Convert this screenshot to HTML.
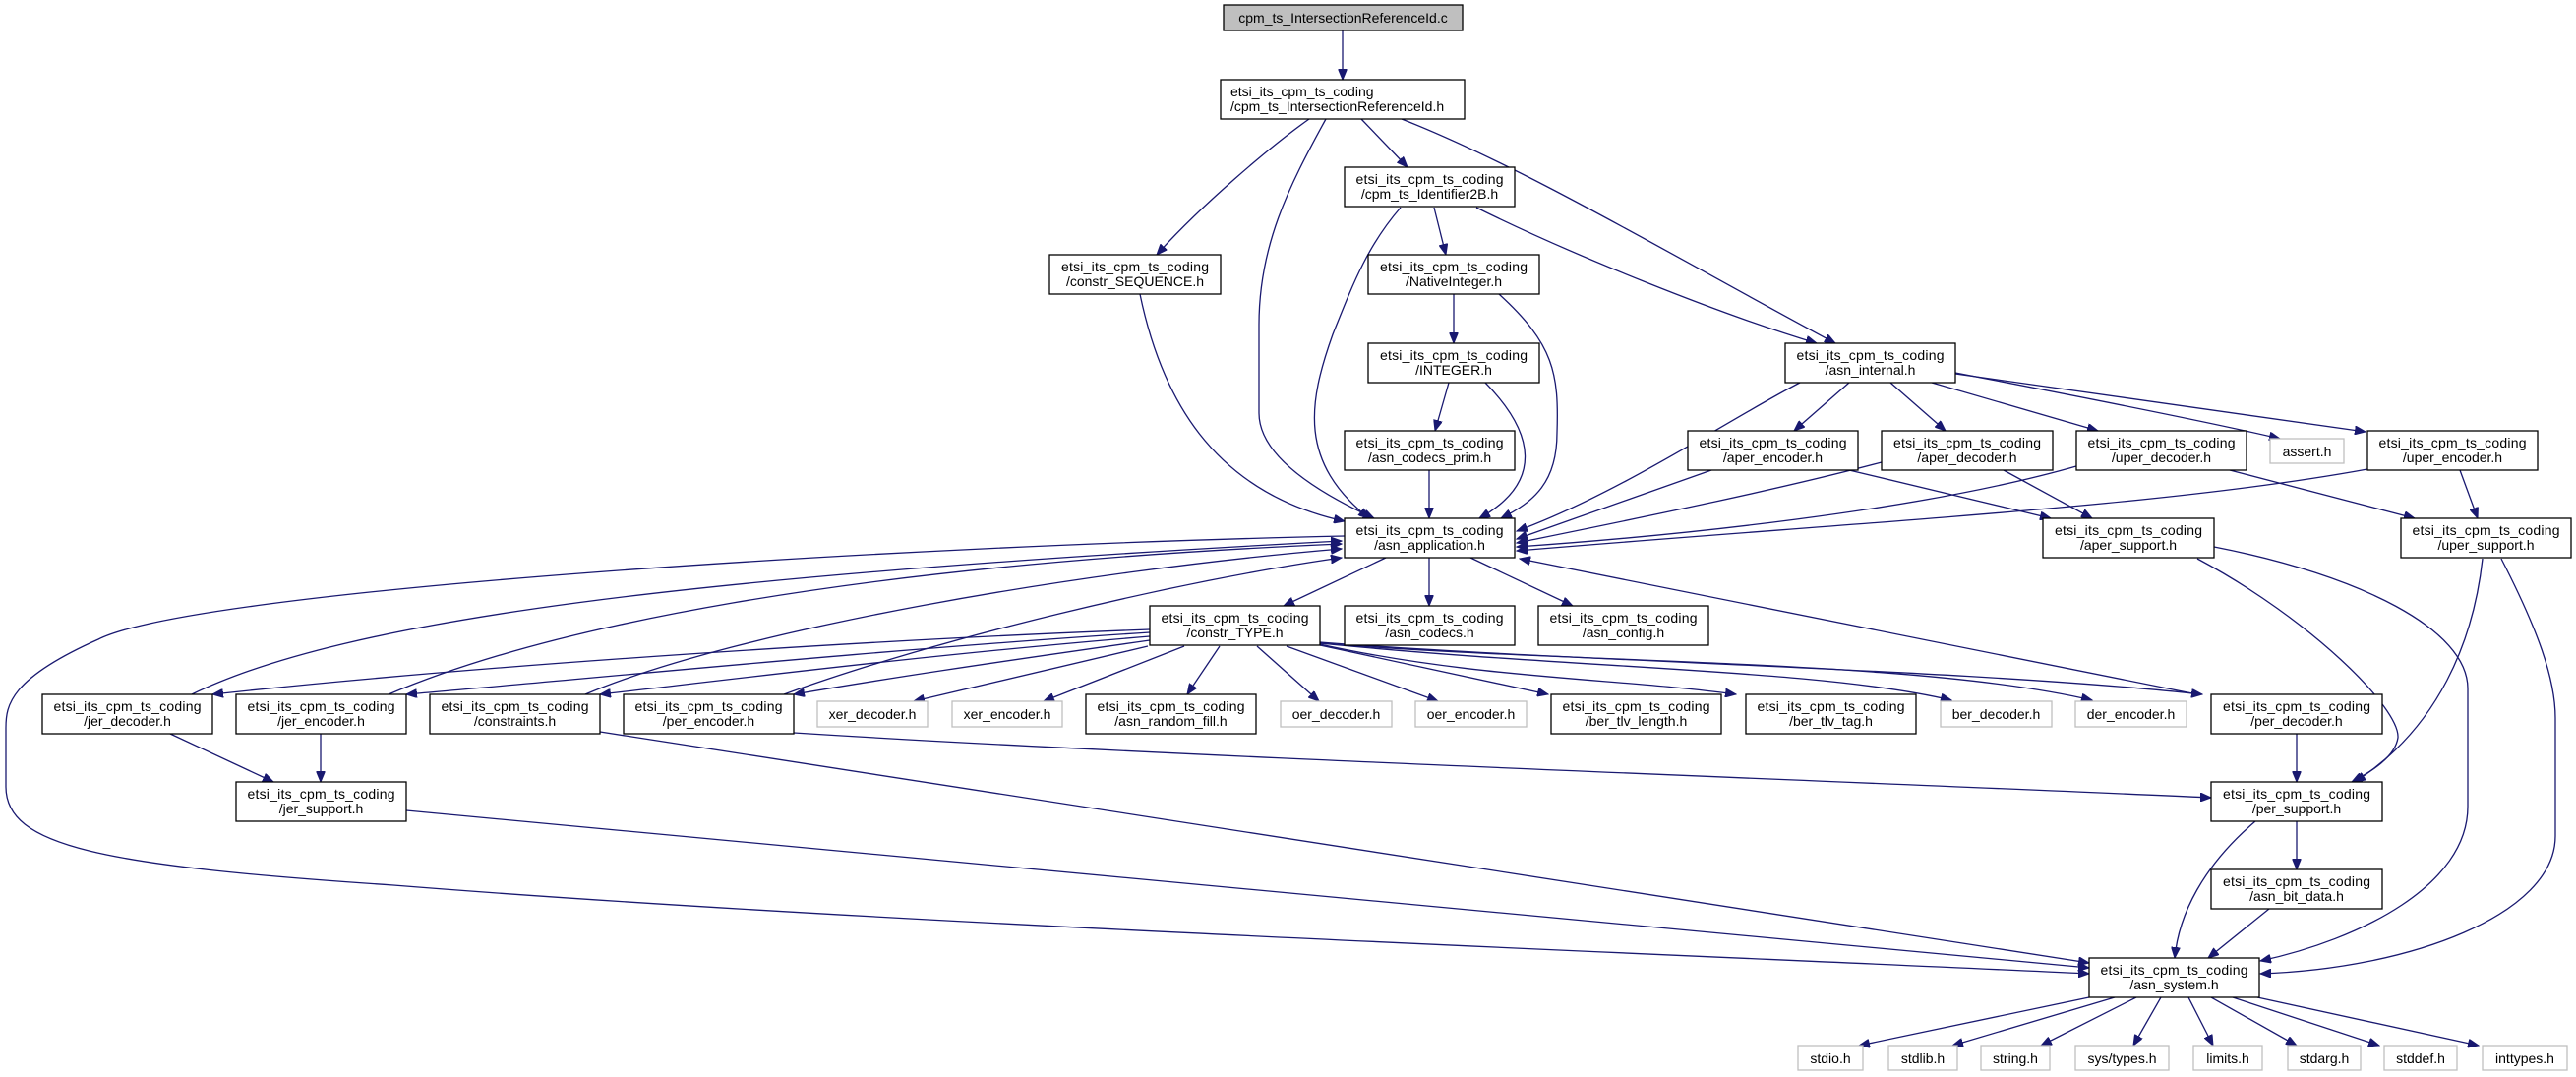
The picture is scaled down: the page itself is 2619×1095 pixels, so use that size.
<!DOCTYPE html>
<html><head><meta charset="utf-8"><style>
html,body{margin:0;padding:0;background:#fff;}
svg{display:block;}
text{font-family:"Liberation Sans","DejaVu Sans",sans-serif;font-size:14px;fill:#000;}
.n{fill:#fff;stroke:#000;stroke-width:1.3;}
.g{fill:#fff;stroke:#bfbfbf;stroke-width:1.3;}
.r{fill:#bfbfbf;stroke:#000;stroke-width:1.3;}
.e path{fill:none;stroke:#191970;stroke-width:1.3;marker-end:url(#a);}
</style></head><body>
<svg width="2619" height="1095" viewBox="0 0 2619 1095" xmlns="http://www.w3.org/2000/svg">
<defs><marker id="a" markerUnits="userSpaceOnUse" markerWidth="12" markerHeight="9" refX="11" refY="4.5" orient="auto"><path d="M0,0 L11,4.5 L0,9 z" fill="#191970" stroke="#191970"/></marker></defs>
<g class="e">
<path d="M1365,31 L1365,81"/>
<path d="M1331,121 C1290,150 1220,210 1176,259"/>
<path d="M1348,121 C1310,190 1280,250 1280,330 L1280,420 C1280,470 1360,510 1397,527"/>
<path d="M1384,121 L1431,170"/>
<path d="M1425,121 C1550,170 1700,260 1866,349"/>
<path d="M1424,211 C1390,250 1375,290 1355,340 C1330,410 1320,470 1392,527"/>
<path d="M1458,211 L1470,259"/>
<path d="M1501,211 C1600,260 1750,320 1847,349"/>
<path d="M1159,299 C1180,400 1230,500 1367,530"/>
<path d="M1478,299 L1478,349"/>
<path d="M1524,299 C1580,350 1585,380 1583,440 C1583,490 1560,510 1526,527"/>
<path d="M1473,389 L1459,438"/>
<path d="M1510,389 C1560,440 1570,490 1504,527"/>
<path d="M1453,478 L1453,527"/>
<path d="M1830,389 C1760,425 1650,500 1542,540"/>
<path d="M1880,389 L1824,438"/>
<path d="M1922,389 L1978,438"/>
<path d="M1964,389 L2133,438"/>
<path d="M1988,379 C2150,410 2250,430 2318,446"/>
<path d="M1988,380 L2405,439"/>
<path d="M1740,478 L1542,548"/>
<path d="M1880,478 L2085,527"/>
<path d="M1913,470 C1800,500 1650,530 1542,552"/>
<path d="M2037,478 L2127,527"/>
<path d="M2111,474 C1950,520 1700,545 1542,556"/>
<path d="M2267,478 L2455,527"/>
<path d="M2407,477 C2200,515 1900,530 1542,560"/>
<path d="M2501,478 L2519,527"/>
<path d="M2234,568 C2350,630 2440,720 2438,750 C2435,770 2410,785 2391,795"/>
<path d="M2251,556 C2400,585 2509,640 2509,700 L2509,820 C2509,900 2400,955 2298,977"/>
<path d="M2524,568 C2515,650 2480,740 2394,795"/>
<path d="M2543,568 C2580,640 2598,690 2598,730 L2598,850 C2598,930 2450,985 2298,990"/>
<path d="M1409,567 L1305,616"/>
<path d="M1453,567 L1453,616"/>
<path d="M1495,567 L1599,616"/>
<path d="M2234,706 L1545,568"/>
<path d="M1167,657 L929,713"/>
<path d="M1204,657 L1061,713"/>
<path d="M1240,657 L1207,706"/>
<path d="M1278,657 L1341,713"/>
<path d="M1308,657 L1462,713"/>
<path d="M1342,656 L1574,706"/>
<path d="M1342,655 C1500,690 1650,690 1765,706"/>
<path d="M1342,654 C1600,680 1850,680 1984,712"/>
<path d="M1342,654 C1600,675 1950,670 2127,712"/>
<path d="M1342,653 C1600,673 2000,680 2239,706"/>
<path d="M1169,640 C900,650 500,675 216,706"/>
<path d="M1169,643 C900,660 600,690 413,706"/>
<path d="M1169,647 C950,665 750,690 610,706"/>
<path d="M1169,651 C1000,675 900,690 807,706"/>
<path d="M195,706 C350,630 700,585 1364,550"/>
<path d="M395,706 C550,640 850,575 1364,553"/>
<path d="M595,706 C750,640 1100,580 1364,558"/>
<path d="M797,706 C950,650 1200,590 1364,567"/>
<path d="M1367,545 C900,555 200,600 100,650 C10,690 6,717 6,740 L6,800 C6,860 100,880 400,900 C900,940 1700,970 2124,990"/>
<path d="M173,746 L278,795"/>
<path d="M326,746 L326,795"/>
<path d="M413,824 L2124,984"/>
<path d="M610,744 L2124,979"/>
<path d="M807,745 C1200,770 1900,795 2248,811"/>
<path d="M2335,746 L2335,795"/>
<path d="M2293,835 C2240,880 2215,930 2211,974"/>
<path d="M2335,835 L2335,884"/>
<path d="M2307,924 L2245,974"/>
<path d="M2124,1014 L1890,1063"/>
<path d="M2150,1014 L1985,1063"/>
<path d="M2172,1014 L2075,1063"/>
<path d="M2197,1014 L2169,1063"/>
<path d="M2225,1014 L2250,1063"/>
<path d="M2248,1014 L2335,1063"/>
<path d="M2270,1014 L2419,1063"/>
<path d="M2295,1014 L2520,1063"/>
</g>
<g>
<rect class="r" x="1244" y="5" width="243" height="26"/><text x="1365.5" y="23" text-anchor="middle">cpm_ts_IntersectionReferenceId.c</text>
<rect class="n" x="1241" y="81" width="248" height="40"/><text x="1251" y="98">etsi_its_cpm_ts_coding</text><text x="1251" y="113">/cpm_ts_IntersectionReferenceId.h</text>
</g>
<g text-anchor="middle">
<rect class="n" x="1367" y="170" width="173" height="40"/><text x="1453.5" y="187" textLength="150">etsi_its_cpm_ts_coding</text><text x="1453.5" y="202">/cpm_ts_Identifier2B.h</text>
<rect class="n" x="1067" y="259" width="174" height="40"/><text x="1154" y="276" textLength="150">etsi_its_cpm_ts_coding</text><text x="1154" y="291">/constr_SEQUENCE.h</text>
<rect class="n" x="1391" y="259" width="174" height="40"/><text x="1478" y="276" textLength="150">etsi_its_cpm_ts_coding</text><text x="1478" y="291">/NativeInteger.h</text>
<rect class="n" x="1391" y="349" width="174" height="40"/><text x="1478" y="366" textLength="150">etsi_its_cpm_ts_coding</text><text x="1478" y="381">/INTEGER.h</text>
<rect class="n" x="1367" y="438" width="173" height="40"/><text x="1453.5" y="455" textLength="150">etsi_its_cpm_ts_coding</text><text x="1453.5" y="470">/asn_codecs_prim.h</text>
<rect class="n" x="1367" y="527" width="173" height="40"/><text x="1453.5" y="544" textLength="150">etsi_its_cpm_ts_coding</text><text x="1453.5" y="559">/asn_application.h</text>
<rect class="n" x="1815" y="349" width="173" height="40"/><text x="1901.5" y="366" textLength="150">etsi_its_cpm_ts_coding</text><text x="1901.5" y="381">/asn_internal.h</text>
<rect class="n" x="1716" y="438" width="173" height="40"/><text x="1802.5" y="455" textLength="150">etsi_its_cpm_ts_coding</text><text x="1802.5" y="470">/aper_encoder.h</text>
<rect class="n" x="1913" y="438" width="174" height="40"/><text x="2000" y="455" textLength="150">etsi_its_cpm_ts_coding</text><text x="2000" y="470">/aper_decoder.h</text>
<rect class="n" x="2111" y="438" width="173" height="40"/><text x="2197.5" y="455" textLength="150">etsi_its_cpm_ts_coding</text><text x="2197.5" y="470">/uper_decoder.h</text>
<rect class="g" x="2308" y="446" width="75" height="25"/><text x="2345.5" y="464">assert.h</text>
<rect class="n" x="2407" y="438" width="173" height="40"/><text x="2493.5" y="455" textLength="150">etsi_its_cpm_ts_coding</text><text x="2493.5" y="470">/uper_encoder.h</text>
<rect class="n" x="2077" y="527" width="174" height="40"/><text x="2164" y="544" textLength="150">etsi_its_cpm_ts_coding</text><text x="2164" y="559">/aper_support.h</text>
<rect class="n" x="2441" y="527" width="173" height="40"/><text x="2527.5" y="544" textLength="150">etsi_its_cpm_ts_coding</text><text x="2527.5" y="559">/uper_support.h</text>
<rect class="n" x="1169" y="616" width="173" height="40"/><text x="1255.5" y="633" textLength="150">etsi_its_cpm_ts_coding</text><text x="1255.5" y="648">/constr_TYPE.h</text>
<rect class="n" x="1367" y="616" width="173" height="40"/><text x="1453.5" y="633" textLength="150">etsi_its_cpm_ts_coding</text><text x="1453.5" y="648">/asn_codecs.h</text>
<rect class="n" x="1564" y="616" width="173" height="40"/><text x="1650.5" y="633" textLength="150">etsi_its_cpm_ts_coding</text><text x="1650.5" y="648">/asn_config.h</text>
<rect class="n" x="43" y="706" width="173" height="40"/><text x="129.5" y="723" textLength="150">etsi_its_cpm_ts_coding</text><text x="129.5" y="738">/jer_decoder.h</text>
<rect class="n" x="240" y="706" width="173" height="40"/><text x="326.5" y="723" textLength="150">etsi_its_cpm_ts_coding</text><text x="326.5" y="738">/jer_encoder.h</text>
<rect class="n" x="437" y="706" width="173" height="40"/><text x="523.5" y="723" textLength="150">etsi_its_cpm_ts_coding</text><text x="523.5" y="738">/constraints.h</text>
<rect class="n" x="634" y="706" width="173" height="40"/><text x="720.5" y="723" textLength="150">etsi_its_cpm_ts_coding</text><text x="720.5" y="738">/per_encoder.h</text>
<rect class="g" x="831" y="713" width="112" height="26"/><text x="887" y="731">xer_decoder.h</text>
<rect class="g" x="968" y="713" width="112" height="26"/><text x="1024" y="731">xer_encoder.h</text>
<rect class="n" x="1104" y="706" width="173" height="40"/><text x="1190.5" y="723" textLength="150">etsi_its_cpm_ts_coding</text><text x="1190.5" y="738">/asn_random_fill.h</text>
<rect class="g" x="1302" y="713" width="113" height="26"/><text x="1358.5" y="731">oer_decoder.h</text>
<rect class="g" x="1439" y="713" width="113" height="26"/><text x="1495.5" y="731">oer_encoder.h</text>
<rect class="n" x="1577" y="706" width="173" height="40"/><text x="1663.5" y="723" textLength="150">etsi_its_cpm_ts_coding</text><text x="1663.5" y="738">/ber_tlv_length.h</text>
<rect class="n" x="1775" y="706" width="173" height="40"/><text x="1861.5" y="723" textLength="150">etsi_its_cpm_ts_coding</text><text x="1861.5" y="738">/ber_tlv_tag.h</text>
<rect class="g" x="1973" y="713" width="113" height="26"/><text x="2029.5" y="731">ber_decoder.h</text>
<rect class="g" x="2110" y="713" width="113" height="26"/><text x="2166.5" y="731">der_encoder.h</text>
<rect class="n" x="2248" y="706" width="174" height="40"/><text x="2335" y="723" textLength="150">etsi_its_cpm_ts_coding</text><text x="2335" y="738">/per_decoder.h</text>
<rect class="n" x="240" y="795" width="173" height="40"/><text x="326.5" y="812" textLength="150">etsi_its_cpm_ts_coding</text><text x="326.5" y="827">/jer_support.h</text>
<rect class="n" x="2248" y="795" width="174" height="40"/><text x="2335" y="812" textLength="150">etsi_its_cpm_ts_coding</text><text x="2335" y="827">/per_support.h</text>
<rect class="n" x="2248" y="884" width="174" height="40"/><text x="2335" y="901" textLength="150">etsi_its_cpm_ts_coding</text><text x="2335" y="916">/asn_bit_data.h</text>
<rect class="n" x="2124" y="974" width="173" height="40"/><text x="2210.5" y="991" textLength="150">etsi_its_cpm_ts_coding</text><text x="2210.5" y="1006">/asn_system.h</text>
<rect class="g" x="1828" y="1063" width="66" height="25"/><text x="1861" y="1081">stdio.h</text>
<rect class="g" x="1920" y="1063" width="70" height="25"/><text x="1955" y="1081">stdlib.h</text>
<rect class="g" x="2014" y="1063" width="70" height="25"/><text x="2049" y="1081">string.h</text>
<rect class="g" x="2110" y="1063" width="95" height="25"/><text x="2157.5" y="1081">sys/types.h</text>
<rect class="g" x="2230" y="1063" width="70" height="25"/><text x="2265" y="1081">limits.h</text>
<rect class="g" x="2326" y="1063" width="74" height="25"/><text x="2363" y="1081">stdarg.h</text>
<rect class="g" x="2424" y="1063" width="74" height="25"/><text x="2461" y="1081">stddef.h</text>
<rect class="g" x="2524" y="1063" width="86" height="25"/><text x="2567" y="1081">inttypes.h</text>
</g>
</svg>
</body></html>
